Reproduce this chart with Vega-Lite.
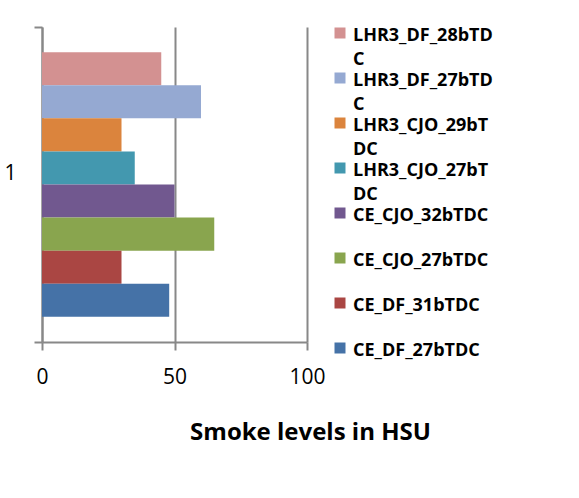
{
  "$schema": "https://vega.github.io/schema/vega-lite/v6.json",
  "autosize": {"type": "none"},
  "width": 265,
  "height": 315,
  "padding": {"left": 42, "top": 27, "right": 272, "bottom": 156},
  "background": "white",
  "config": {
    "view": {"stroke": null},
    "font": "Open Sans",
    "style": {"guide-label": {"lineHeight": 24, "dy": -6}}
  },
  "data": {
    "values": [
      {"cat": "1", "series": "LHR3_DF_28bTDC", "value": 45},
      {"cat": "1", "series": "LHR3_DF_27bTDC", "value": 60},
      {"cat": "1", "series": "LHR3_CJO_29bTDC", "value": 30},
      {"cat": "1", "series": "LHR3_CJO_27bTDC", "value": 35},
      {"cat": "1", "series": "CE_CJO_32bTDC", "value": 50},
      {"cat": "1", "series": "CE_CJO_27bTDC", "value": 65},
      {"cat": "1", "series": "CE_DF_31bTDC", "value": 30},
      {"cat": "1", "series": "CE_DF_27bTDC", "value": 48}
    ]
  },
  "mark": {"type": "bar"},
  "encoding": {
    "x": {
      "field": "value",
      "type": "quantitative",
      "scale": {"domain": [0, 100], "nice": false},
      "axis": {
        "values": [0, 50, 100],
        "title": "Smoke levels in HSU",
        "titleFont": "Open Sans",
        "titleFontSize": 24,
        "titleFontWeight": "bold",
        "titleColor": "black",
        "titleX": 268,
        "titleY": 90,
        "titleBaseline": "middle",
        "labelFont": "Open Sans",
        "labelFontSize": 21,
        "labelColor": "black",
        "labelPadding": 22,
        "labelFlush": false,
        "domainColor": "#888888",
        "domainWidth": 2,
        "tickColor": "#888888",
        "tickWidth": 2,
        "tickSize": 8,
        "grid": true,
        "gridColor": "#888888",
        "gridWidth": 2
      }
    },
    "y": {
      "field": "cat",
      "type": "nominal",
      "scale": {"paddingInner": 0, "paddingOuter": 0},
      "axis": {
        "title": null,
        "labelFont": "Open Sans",
        "labelFontSize": 21,
        "labelColor": "black",
        "labelPadding": 18,
        "labelOffset": -5,
        "labelAngle": 0,
        "tickBand": "extent",
        "domainColor": "#888888",
        "domainWidth": 2,
        "tickColor": "#888888",
        "tickWidth": 2,
        "tickSize": 8
      }
    },
    "yOffset": {
      "field": "series",
      "type": "nominal",
      "sort": ["LHR3_DF_28bTDC", "LHR3_DF_27bTDC", "LHR3_CJO_29bTDC", "LHR3_CJO_27bTDC", "CE_CJO_32bTDC", "CE_CJO_27bTDC", "CE_DF_31bTDC", "CE_DF_27bTDC"],
      "scale": {"paddingInner": 0, "paddingOuter": 0.76}
    },
    "color": {
      "field": "series",
      "type": "nominal",
      "scale": {
        "domain": ["LHR3_DF_28bTDC", "LHR3_DF_27bTDC", "LHR3_CJO_29bTDC", "LHR3_CJO_27bTDC", "CE_CJO_32bTDC", "CE_CJO_27bTDC", "CE_DF_31bTDC", "CE_DF_27bTDC"],
        "range": ["#D39191", "#95A9D2", "#DB843D", "#4398AF", "#71588F", "#89A54E", "#AA4643", "#4572A7"]
      },
      "legend": {
        "title": null,
        "orient": "none",
        "legendX": 289,
        "legendY": -3,
        "symbolType": "square",
        "symbolSize": 121,
        "symbolStrokeWidth": 0,
        "labelFont": "Open Sans",
        "labelFontSize": 18,
        "labelFontWeight": "bold",
        "labelColor": "black",
        "labelLimit": 300,
        "labelOffset": 4,
        "labelBaseline": "top",
        "rowPadding": 0,
        "labelExpr": "length(datum.label) > 13 ? [substring(datum.label, 0, 13), substring(datum.label, 13)] : [datum.label, ' ']"
      }
    }
  }
}
